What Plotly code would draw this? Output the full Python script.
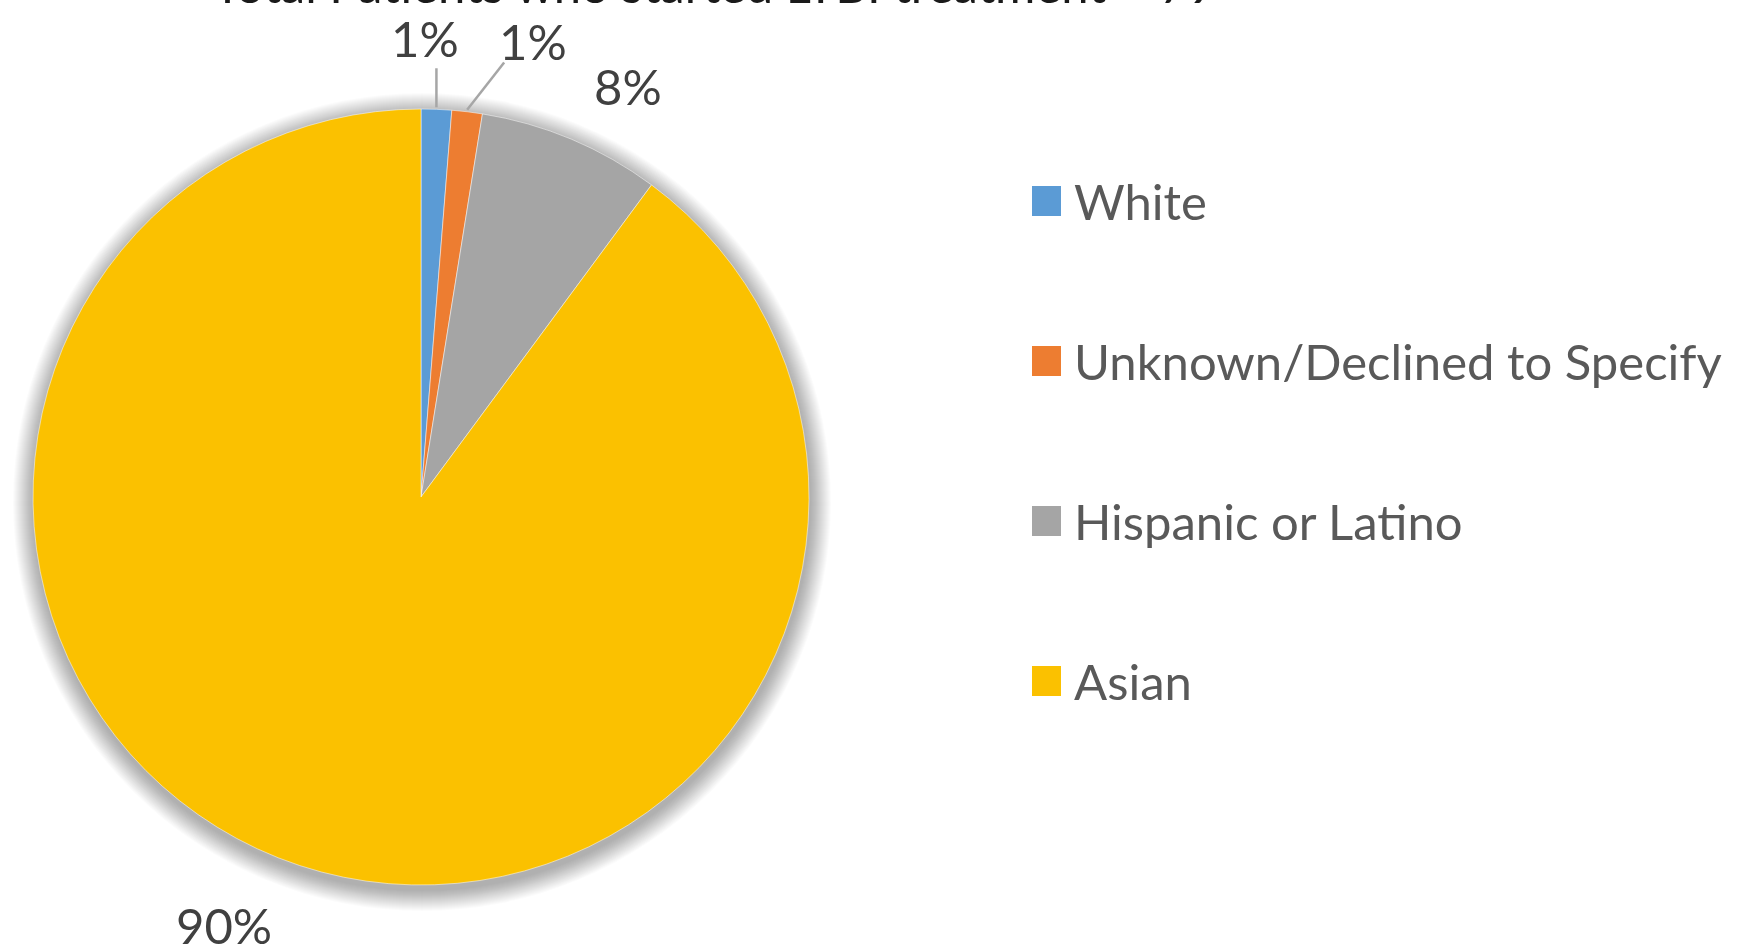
import numpy as np
import plotly.graph_objects as go

# ---- data ----
categories = ["White", "Unknown/Declined to Specify", "Hispanic or Latino", "Asian"]
counts = [1, 1, 6, 71]
colors = ["#5B9BD5", "#ED7D31", "#A5A5A5", "#FBC100"]
title_text = "Total Patients who started LTBI treatment = 79"

# ---- geometry / style ----
W, H = 1749, 951
CX, CY, R = 421, 497, 388          # pie centre & radius in pixels
label_angle_nudge = [-1.8, 7.0, 3.9, 6.5]   # degrees
label_dist = [1.183, 1.21, 1.186, 1.214]    # multiples of R
FONT = "Lato"
FS = 49

def px(x):
    return x / W

def py(y):
    return 1 - y / H

fig = go.Figure()
fig.add_trace(go.Pie(
    labels=categories, values=counts, sort=False, direction="clockwise",
    rotation=0, textinfo="none", hoverinfo="label+percent", showlegend=False,
    marker=dict(colors=colors, line=dict(color="white", width=0.5)),
    domain=dict(x=[px(CX - R), px(CX + R)], y=[py(CY + R), py(CY - R)]),
))

shapes = []
# soft shadow behind pie
for k in range(1, 22):
    rr = R + k
    shapes.append(dict(type="circle", xref="paper", yref="paper", layer="below",
                       x0=px(CX + 1 - rr), x1=px(CX + 1 + rr),
                       y0=py(CY + 5 + rr), y1=py(CY + 5 - rr),
                       fillcolor="rgba(0,0,0,0.016)", line=dict(width=0)))

annotations = []
total = sum(counts)
cum = np.cumsum([0] + counts)
for i, c in enumerate(counts):
    mid = (cum[i] + cum[i + 1]) / 2 / total * 360.0
    ang = np.radians(mid + label_angle_nudge[i])
    d = label_dist[i] * R
    lx = CX + d * np.sin(ang)
    ly = CY - d * np.cos(ang)
    pct = round(100 * c / total)
    annotations.append(dict(x=px(lx), y=py(ly), xref="paper", yref="paper",
                            text=f"{pct}%", showarrow=False,
                            xanchor="center", yanchor="middle",
                            font=dict(family=FONT, size=FS, color="#404040")))
    if pct <= 1:
        m = np.radians(mid)
        e_ang = np.radians(mid + 0.4 * label_angle_nudge[i] + 1.2)
        x0 = CX + R * np.sin(m)
        y0 = CY - R * np.cos(m)
        if label_angle_nudge[i] > 0:
            x1 = CX + 1.14 * R * np.sin(e_ang)
            y1 = CY - 1.14 * R * np.cos(e_ang)
        else:
            x1, y1 = x0, CY - 1.105 * R
        shapes.append(dict(type="line", xref="paper", yref="paper",
                           x0=px(x0), y0=py(y0 - 2), x1=px(x1), y1=py(y1),
                           line=dict(color="#A6A6A6", width=2.5)))

# legend
leg_y = [201, 361, 521, 681]
for cat, col, yy in zip(categories, colors, leg_y):
    shapes.append(dict(type="rect", xref="paper", yref="paper",
                       x0=px(1032), x1=px(1061), y0=py(yy + 15), y1=py(yy - 15),
                       fillcolor=col, line=dict(width=0)))
    annotations.append(dict(x=px(1072), y=py(yy), xref="paper", yref="paper",
                            text=cat, showarrow=False, xanchor="left", yanchor="middle",
                            font=dict(family=FONT, size=FS, color="#595959")))

# title (cut off at the top, as in the reference)
annotations.append(dict(x=px(714), y=py(-16), xref="paper", yref="paper",
                        text=title_text, showarrow=False, xanchor="center", yanchor="middle",
                        font=dict(family=FONT, size=49, color="#1a1a1a")))

fig.update_layout(width=W, height=H, margin=dict(l=0, r=0, t=0, b=0),
                  paper_bgcolor="white", plot_bgcolor="white",
                  shapes=shapes, annotations=annotations)

fig.write_html("out.html", config={"displayModeBar": False},
               post_script="document.body.style.margin='0';document.body.style.overflow='hidden';")
